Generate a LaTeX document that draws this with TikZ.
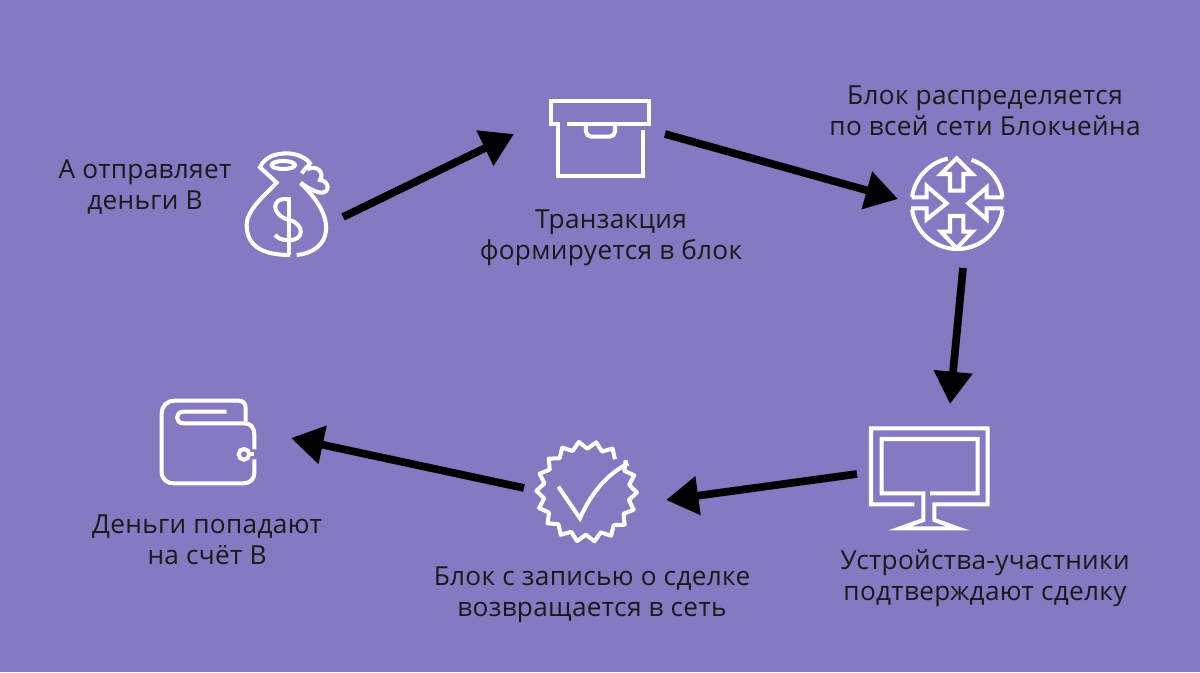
\documentclass[tikz,border=0pt]{standalone}
\usepackage{fontspec}
\setmainfont{Open Sans}[LetterSpace=1.2]
\usetikzlibrary{arrows.meta}
\definecolor{bgviolet}{HTML}{837AC1}
\definecolor{txtdark}{HTML}{1A1A1A}
\tikzset{
	lbl/.style = {align = center, text = txtdark, font = \fontsize{7.45}{8.95}\selectfont},
	flow/.style = {line width = 2.2pt, -{Triangle[length = 9.2pt, width = 10.6pt]}},
	ico/.style = {draw = white, line width = 1.15pt, line join = miter, fill = none}
}
\begin{document}
\begin{tikzpicture}[x = .01cm, y = -.01cm]
	\fill[bgviolet] (0,0) rectangle (1200,672);
	% labels
	\node[lbl] (send) at (145,187) {А отправляет\\деньги В};
	\node[lbl] (form) at (611,238) {Транзакция\\формируется в блок};
	\node[lbl] (spread) at (985,111) {Блок распределяется\\по всей сети Блокчейна};
	\node[lbl] (nodes) at (985,578) {Устройства-участники\\подтверждают сделку};
	\node[lbl] (back) at (592,595) {Блок с записью о сделке\\возвращается в сеть};
	\node[lbl] (recv) at (207,540) {Деньги попадают\\на счёт В};
	% arrow ends
	\coordinate (a1) at (343,217);
	\coordinate (a2) at (514,134);
	\coordinate (b1) at (665,134);
	\coordinate (b2) at (898,199);
	\coordinate (c1) at (963,268);
	\coordinate (c2) at (950,404);
	\coordinate (d1) at (857,474);
	\coordinate (d2) at (666,500);
	\coordinate (e1) at (524,488);
	\coordinate (e2) at (291,438);
	\draw[flow] (a1)--(a2);
	\draw[flow] (b1)--(b2);
	\draw[flow] (c1)--(c2);
	\draw[flow] (d1)--(d2);
	\draw[flow] (e1)--(e2);
	% money bag
	\begin{scope}[shift = {(230,140)}, scale = .3333]
		\draw[ico] (200,345) .. controls (300,335) and (330,240) .. (212,130);
		\draw[ico] (180,345) .. controls (100,345) and (50,320) .. (50,255) .. controls (50,210) and (105,165) .. (140,128) -- (90,82) .. controls (105,50) and (135,40) .. (175,40) .. controls (205,42) and (230,55) .. (240,70) .. controls (232,80) and (222,90) .. (215,100);
		\draw[ico] (160,75) ellipse (35 and 12);
		\draw[ico] (232,88) .. controls (258,74) and (285,95) .. (270,120) .. controls (298,122) and (302,160) .. (272,158) .. controls (250,155) and (228,140) .. (212,128);
		\draw[ico] (178,170) -- (178,345);
		\draw[ico] (172,178) .. controls (125,170) and (120,225) .. (178,240) .. controls (225,252) and (225,305) .. (172,300) .. controls (155,300) and (145,295) .. (135,285);
	\end{scope}
	% box
	\begin{scope}[shift = {(530,85)}, scale = .3333]
		\draw[ico] (110,118) -- (358,118) -- (358,47) -- (62,47) -- (62,118) -- (85,118) -- (85,272) -- (338,272) -- (338,135);
		\draw[ico, rounded corners = 1.5pt] (168,122) -- (168,155) -- (255,155) -- (255,122);
	\end{scope}
	% network
	\begin{scope}[shift = {(895,150)}, scale = .3333]
		\draw[ico] (165,122) -- (165,72) -- (138,72) -- (185,25) -- (232,72) -- (205,72) -- (205,122) -- cycle;
		\draw[ico] (165,198) -- (165,245) -- (138,245) -- (185,295) -- (232,245) -- (205,245) -- (205,198) -- cycle;
		\draw[ico] (50,142) -- (95,142) -- (95,108) -- (155,160) -- (95,208) -- (95,175) -- (48,175);
		\draw[ico] (325,142) -- (275,142) -- (275,112) -- (220,160) -- (275,208) -- (275,175) -- (325,175);
		\draw[ico] (187,160) ++(-102:137) arc[start angle = -102, end angle = -172, radius = 137];
		\draw[ico] (187,160) ++(-72:137) arc[start angle = -72, end angle = -8, radius = 137];
		\draw[ico] (187,160) ++(172:137) arc[start angle = 172, end angle = 90, radius = 137];
		\draw[ico] (187,160) ++(8:137) arc[start angle = 8, end angle = 90, radius = 137];
	\end{scope}
	% monitor
	\begin{scope}[shift = {(855,415)}, scale = .3333]
		\draw[ico] (178,268) -- (48,268) -- (48,40) -- (398,40) -- (398,268) -- (238,268) -- (238,315) -- (308,340) -- (135,340) -- (205,315) -- (205,235) -- (80,235) -- (80,72) -- (368,72) -- (368,235) -- (225,235);
	\end{scope}
	% badge
	\begin{scope}[shift = {(525,435)}, scale = .3333]
		\draw[ico, line join = round, samples at = {0,...,35}] plot ({185+(140-11*cos(180*\x))*cos(-49-\x*10)},{170+(140-11*cos(180*\x))*sin(-49-\x*10)});
		\draw[ico] (100,155) -- (165,250) .. controls (200,170) and (250,115) .. (310,85);
	\end{scope}
	% wallet
	\begin{scope}[shift = {(145,390)}, scale = .3333]
		\draw[ico] (302,95) -- (302,55) .. controls (302,40) and (295,32) .. (280,32) -- (90,32) .. controls (65,32) and (50,48) .. (50,72) -- (50,245) .. controls (50,268) and (65,280) .. (88,280) -- (295,280) .. controls (315,280) and (328,268) .. (328,248) -- (328,208);
		\draw[ico] (328,178) -- (328,135) .. controls (328,112) and (318,100) .. (298,100) -- (115,100) .. controls (90,100) and (90,65) .. (115,65) -- (245,65);
		\draw[ico] (297,193) circle (16);
		\draw[ico] (313,193) -- (328,193);
	\end{scope}
\end{tikzpicture}
\end{document}
